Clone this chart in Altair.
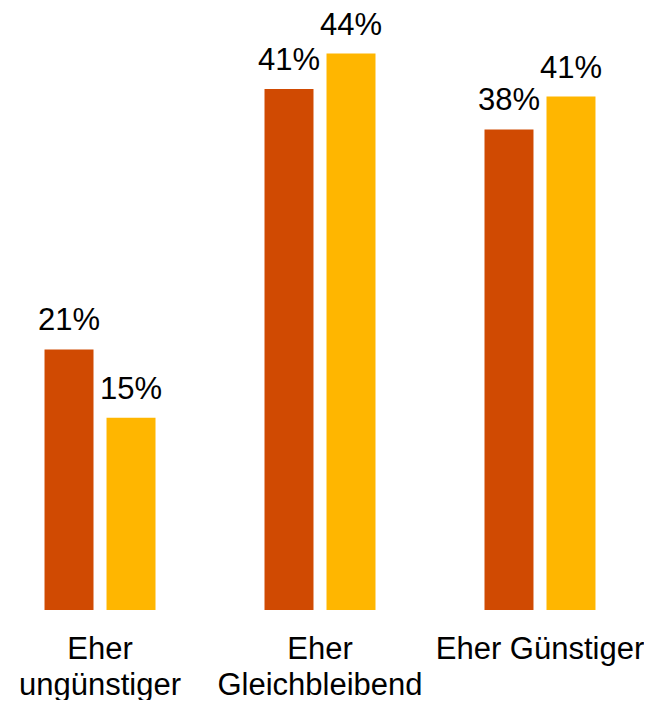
import altair as alt
import pandas as pd

categories = ["Eher\nungünstiger", "Eher\nGleichbleibend", "Eher Günstiger"]
series = ["Reihe 1", "Reihe 2"]
values_1 = [20.6, 41.2, 38.0]
values_2 = [15.2, 44.0, 40.6]
colors = ["#D04A02", "#FFB600"]

rows = []
for c, a, b in zip(categories, values_1, values_2):
    rows.append({"cat": c, "serie": series[0], "wert": a})
    rows.append({"cat": c, "serie": series[1], "wert": b})
df = pd.DataFrame(rows)

font = "Liberation Sans"
fs = 31

x = alt.X("cat:N", sort=categories, title=None,
          scale=alt.Scale(paddingInner=0.4955, paddingOuter=0.166),
          axis=alt.Axis(labelAngle=0, domain=False, ticks=False, labelPadding=24,
                        labelFontSize=fs, labelFont=font, labelColor="#000000",
                        labelLineHeight=36, labelLimit=0,
                        labelExpr="split(datum.label, '\\n')"))
xo = alt.XOffset("serie:N", sort=series, scale=alt.Scale(paddingInner=0.21, paddingOuter=0))
y = alt.Y("wert:Q", title=None, scale=alt.Scale(domain=[0, 47.6], nice=False), axis=None)

bars = alt.Chart(df).mark_bar().encode(
    x=x, xOffset=xo, y=y,
    color=alt.Color("serie:N", sort=series, scale=alt.Scale(domain=series, range=colors), legend=None)
)

labels = alt.Chart(df).transform_calculate(
    lab="format(datum.wert, '.0f') + '%'"
).mark_text(baseline="alphabetic", dy=-19, fontSize=fs, font=font, color="#000000").encode(
    x=x, xOffset=xo, y=y, text="lab:N"
)

chart = (bars + labels).properties(width=624, height=602, padding=0).configure_view(stroke=None)
chart.save("out.html", embed_options={"renderer": "svg", "actions": False})
